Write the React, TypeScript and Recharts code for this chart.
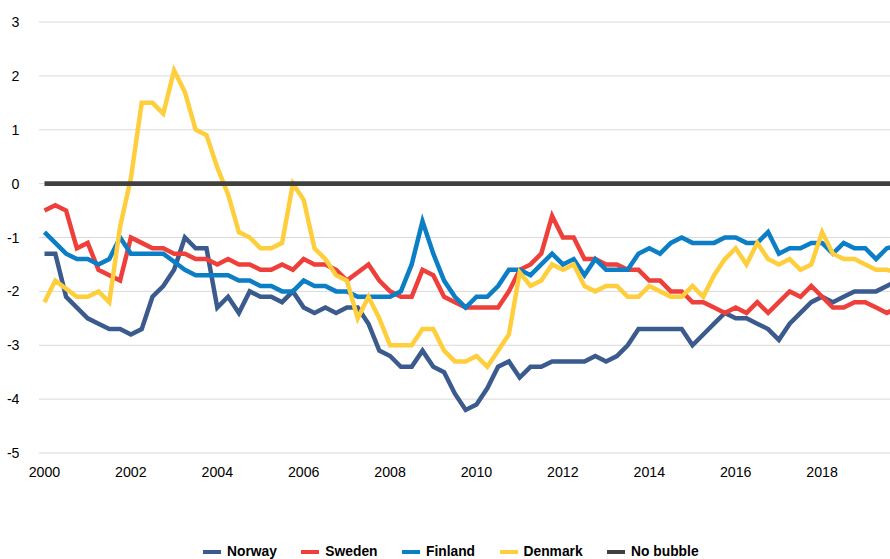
import { CartesianGrid, Line, LineChart, XAxis, YAxis } from "recharts";

// quarterly observations, 2000Q1 .. 2019Q4
const startYear = 2000;

const norway = [
  -1.3, -1.3, -2.1, -2.3, -2.5, -2.6, -2.7, -2.7, -2.8, -2.7,
  -2.1, -1.9, -1.6, -1.0, -1.2, -1.2, -2.3, -2.1, -2.4, -2.0,
  -2.1, -2.1, -2.2, -2.0, -2.3, -2.4, -2.3, -2.4, -2.3, -2.3,
  -2.6, -3.1, -3.2, -3.4, -3.4, -3.1, -3.4, -3.5, -3.9, -4.2,
  -4.1, -3.8, -3.4, -3.3, -3.6, -3.4, -3.4, -3.3, -3.3, -3.3,
  -3.3, -3.2, -3.3, -3.2, -3.0, -2.7, -2.7, -2.7, -2.7, -2.7,
  -3.0, -2.8, -2.6, -2.4, -2.5, -2.5, -2.6, -2.7, -2.9, -2.6,
  -2.4, -2.2, -2.1, -2.2, -2.1, -2.0, -2.0, -2.0, -1.9, -1.8,
];

const sweden = [
  -0.5, -0.4, -0.5, -1.2, -1.1, -1.6, -1.7, -1.8, -1.0, -1.1,
  -1.2, -1.2, -1.3, -1.3, -1.4, -1.4, -1.5, -1.4, -1.5, -1.5,
  -1.6, -1.6, -1.5, -1.6, -1.4, -1.5, -1.5, -1.6, -1.8, -1.65,
  -1.5, -1.8, -2.0, -2.1, -2.1, -1.6, -1.7, -2.1, -2.2, -2.3,
  -2.3, -2.3, -2.3, -2.0, -1.6, -1.5, -1.3, -0.6, -1.0, -1.0,
  -1.4, -1.4, -1.5, -1.5, -1.6, -1.6, -1.8, -1.8, -2.0, -2.0,
  -2.2, -2.2, -2.3, -2.4, -2.3, -2.4, -2.2, -2.4, -2.2, -2.0,
  -2.1, -1.9, -2.1, -2.3, -2.3, -2.2, -2.2, -2.3, -2.4, -2.3,
];

const finland = [
  -0.9, -1.1, -1.3, -1.4, -1.4, -1.5, -1.4, -1.0, -1.3, -1.3,
  -1.3, -1.3, -1.45, -1.6, -1.7, -1.7, -1.7, -1.7, -1.8, -1.8,
  -1.9, -1.9, -2.0, -2.0, -1.8, -1.9, -1.9, -2.0, -2.0, -2.1,
  -2.1, -2.1, -2.1, -2.0, -1.5, -0.7, -1.3, -1.8, -2.1, -2.3,
  -2.1, -2.1, -1.9, -1.6, -1.6, -1.7, -1.5, -1.3, -1.5, -1.4,
  -1.7, -1.4, -1.6, -1.6, -1.6, -1.3, -1.2, -1.3, -1.1, -1.0,
  -1.1, -1.1, -1.1, -1.0, -1.0, -1.1, -1.1, -0.9, -1.3, -1.2,
  -1.2, -1.1, -1.1, -1.3, -1.1, -1.2, -1.2, -1.4, -1.2, -1.15,
];

const denmark = [
  -2.2, -1.8, -1.95, -2.1, -2.1, -2.0, -2.2, -0.8, 0.1, 1.5,
  1.5, 1.3, 2.1, 1.7, 1.0, 0.9, 0.3, -0.2, -0.9, -1.0,
  -1.2, -1.2, -1.1, 0.0, -0.3, -1.2, -1.4, -1.7, -1.8, -2.5,
  -2.1, -2.5, -3.0, -3.0, -3.0, -2.7, -2.7, -3.1, -3.3, -3.3,
  -3.2, -3.4, -3.1, -2.8, -1.65, -1.9, -1.8, -1.5, -1.6, -1.5,
  -1.9, -2.0, -1.9, -1.9, -2.1, -2.1, -1.9, -2.0, -2.1, -2.1,
  -1.9, -2.1, -1.7, -1.4, -1.2, -1.5, -1.1, -1.4, -1.5, -1.4,
  -1.6, -1.5, -0.9, -1.3, -1.4, -1.4, -1.5, -1.6, -1.6, -1.65,
];

const noBubble = [
  0, 0, 0, 0, 0, 0, 0, 0, 0, 0, 0, 0, 0, 0, 0, 0, 0, 0, 0, 0,
  0, 0, 0, 0, 0, 0, 0, 0, 0, 0, 0, 0, 0, 0, 0, 0, 0, 0, 0, 0,
  0, 0, 0, 0, 0, 0, 0, 0, 0, 0, 0, 0, 0, 0, 0, 0, 0, 0, 0, 0,
  0, 0, 0, 0, 0, 0, 0, 0, 0, 0, 0, 0, 0, 0, 0, 0, 0, 0, 0, 0,
];

const yearTicks = [2000, 2002, 2004, 2006, 2008, 2010, 2012, 2014, 2016, 2018];
const valueTicks = [-5, -4, -3, -2, -1, 0, 1, 2, 3];

const series = [
  { key: "norway", name: "Norway", color: "#3B5B8E", width: 4.5, values: norway },
  { key: "sweden", name: "Sweden", color: "#EE3F3A", width: 4.5, values: sweden },
  { key: "finland", name: "Finland", color: "#0B7EC6", width: 4.5, values: finland },
  { key: "denmark", name: "Denmark", color: "#FFCE3D", width: 4.5, values: denmark },
  { key: "noBubble", name: "No bubble", color: "#404040", width: 4.8, values: noBubble },
];

const data = norway.map((_, i) => {
  const row: Record<string, number> = { t: startYear + i / 4 };
  for (const s of series) row[s.key] = s.values[i];
  return row;
});

const font = "'Liberation Sans', Arial, sans-serif";

function ChartLegend() {
  return (
    <div
      style={{
        position: "absolute",
        top: 544,
        left: 203,
        display: "flex",
        gap: 24.5,
        fontFamily: font,
        fontWeight: 700,
        fontSize: 13.8,
        lineHeight: "16px",
        color: "#000",
        whiteSpace: "nowrap",
      }}
    >
      {series.map((s) => (
        <div key={s.key} style={{ display: "flex", alignItems: "center" }}>
          <span style={{ width: 18, height: 4.5, background: s.color, marginRight: 6 }} />
          <span>{s.name}</span>
        </div>
      ))}
    </div>
  );
}

export default function App() {
  const tick = { fontSize: 14.2, fill: "#000", fontFamily: font };

  return (
    <div style={{ position: "absolute", left: 0, top: 0, width: 890, height: 559, background: "#fff", overflow: "hidden" }}>
      <LineChart width={890} height={500} data={data} margin={{ top: 22, right: 0, bottom: 0, left: 0 }}>
        <CartesianGrid vertical={false} stroke="#D9D9D9" />
        <XAxis
          dataKey="t"
          type="number"
          domain={[1999.873, 2019.572]}
          allowDataOverflow
          ticks={yearTicks}
          tick={tick}
          tickLine={false}
          axisLine={false}
          tickSize={6}
          tickMargin={8}
          height={47}
        />
        <YAxis
          type="number"
          domain={[-5, 3]}
          ticks={valueTicks}
          tick={tick}
          tickLine={false}
          axisLine={false}
          tickSize={6}
          tickMargin={13.5}
          width={39}
        />
        {series.map((s) => (
          <Line
            key={s.key}
            dataKey={s.key}
            name={s.name}
            stroke={s.color}
            strokeWidth={s.width}
            dot={false}
            activeDot={false}
            type="linear"
            isAnimationActive={false}
          />
        ))}
      </LineChart>
      <ChartLegend />
    </div>
  );
}
